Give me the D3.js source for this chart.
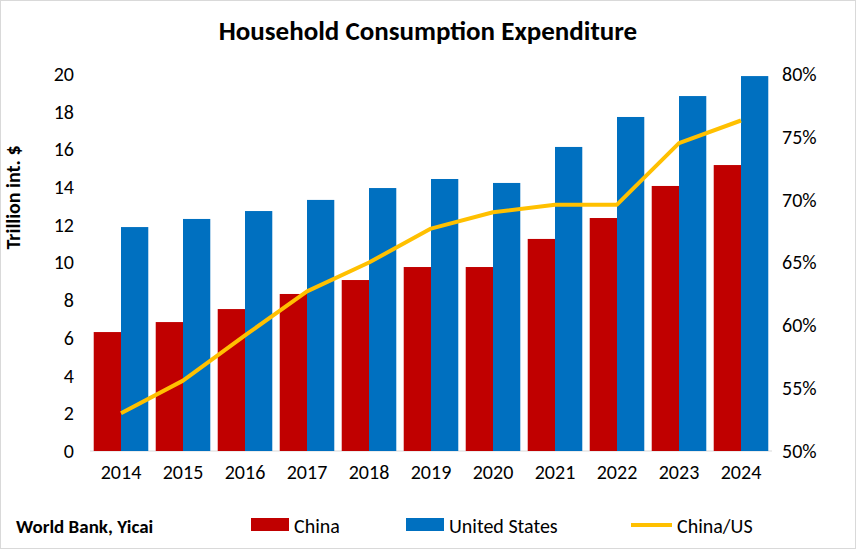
<!DOCTYPE html>
<html><head><meta charset="utf-8">
<script src="https://cdn.jsdelivr.net/npm/d3@7"></script>
<style>body{margin:0;background:#fff;font-family:Calibri,Carlito,"Open Sans","Liberation Sans",Arial,sans-serif}</style>
</head><body><div id="plot"></div>
<script>
const years = ["2014","2015","2016","2017","2018","2019","2020","2021","2022","2023","2024"];
const china = [6.31,6.84,7.53,8.33,9.07,9.76,9.76,11.25,12.36,14.06,15.17];
const us = [11.88,12.31,12.73,13.32,13.95,14.43,14.22,16.13,17.72,18.83,19.89];
const ratio = [53.0,55.6,59.2,62.7,65.0,67.7,69.0,69.6,69.6,74.5,76.3];
const leftTicks = [0,2,4,6,8,10,12,14,16,18,20];
const rightTicks = [50,55,60,65,70,75,80];

const FONT = "Calibri,Carlito,'Open Sans','Liberation Sans',Arial,sans-serif";
const W = 856, H = 549;
const margin = {top: 74, right: 84, bottom: 98, left: 90};
const width = W - margin.left - margin.right, height = H - margin.top - margin.bottom;

const root = d3.select("#plot").append("svg").attr("width", W).attr("height", H).attr("font-family", FONT);
root.append("rect").attr("x",0.5).attr("y",0.5).attr("width",W-1).attr("height",H-1)
  .attr("fill","#fff").attr("stroke","#d9d9d9");
root.append("text").attr("x", W/2).attr("y", 40).attr("text-anchor","middle")
  .attr("font-size", 27).attr("font-weight","bold").text("Household Consumption Expenditure");

const svg = root.append("g").attr("transform", `translate(${margin.left},${margin.top})`);
const x = d3.scaleBand().domain(years).range([0, width]).paddingInner(0.12).paddingOuter(0.06);
const x1 = d3.scaleBand().domain(["c","u"]).range([0, x.bandwidth()]);
const y = d3.scaleLinear().domain([0,20]).range([height,0]);
const y2 = d3.scaleLinear().domain([50,80]).range([height,0]);

const la = svg.append("g").call(d3.axisLeft(y).tickValues(leftTicks).tickSize(0).tickPadding(16));
const ra = svg.append("g").attr("transform",`translate(${width},0)`)
  .call(d3.axisRight(y2).tickValues(rightTicks).tickSize(0).tickPadding(10).tickFormat(d=>d+"%"));
const ba = svg.append("g").attr("transform",`translate(0,${height})`)
  .call(d3.axisBottom(x).tickSize(0).tickPadding(14));
[la,ra,ba].forEach(a=>{a.select(".domain").remove();a.selectAll("text").attr("font-size",20).attr("fill","#000").attr("font-family",FONT);});
svg.append("line").attr("x1",0).attr("x2",width).attr("y1",height).attr("y2",height).attr("stroke","#d9d9d9");

svg.append("text").attr("transform","rotate(-90)").attr("x",-height/2+65).attr("y",-70)
  .attr("text-anchor","middle").attr("font-size",20).attr("font-weight","bold").text("Trillion int. $");

svg.selectAll(".c").data(years).enter().append("rect")
  .attr("x",(d)=>x(d)+x1("c")).attr("width",x1.bandwidth())
  .attr("y",(d,i)=>y(china[i])).attr("height",(d,i)=>height-y(china[i])).attr("fill","#c00000");
svg.selectAll(".u").data(years).enter().append("rect")
  .attr("x",(d)=>x(d)+x1("u")).attr("width",x1.bandwidth())
  .attr("y",(d,i)=>y(us[i])).attr("height",(d,i)=>height-y(us[i])).attr("fill","#0070c0");

svg.append("path").datum(ratio)
  .attr("d", d3.line().x((d,i)=>x(years[i])+x.bandwidth()/2).y(d=>y2(d)))
  .attr("fill","none").attr("stroke","#ffc000").attr("stroke-width",4).attr("stroke-linejoin","round");

root.append("text").attr("x",16).attr("y",533).attr("font-size",19).attr("font-weight","bold").text("World Bank, Yicai");
const lg = root.append("g").attr("font-size",20);
lg.append("rect").attr("x",251).attr("y",518).attr("width",38).attr("height",13).attr("fill","#c00000");
lg.append("text").attr("x",294).attr("y",533).text("China");
lg.append("rect").attr("x",406).attr("y",518).attr("width",38).attr("height",13).attr("fill","#0070c0");
lg.append("text").attr("x",449).attr("y",533).text("United States");
lg.append("line").attr("x1",631).attr("x2",672).attr("y1",525).attr("y2",525).attr("stroke","#ffc000").attr("stroke-width",4);
lg.append("text").attr("x",677).attr("y",533).text("China/US");
</script></body></html>
